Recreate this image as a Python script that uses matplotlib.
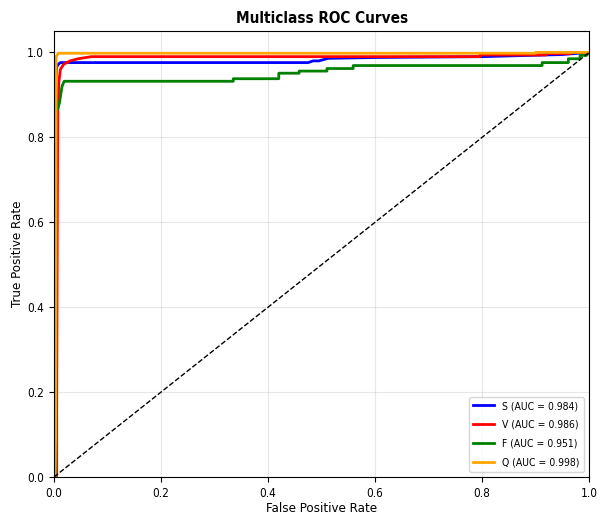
import matplotlib
matplotlib.use("Agg")
import matplotlib.pyplot as plt

# ROC points per class (fpr, tpr)
S_FPR = [0, 0.002, 0.003, 0.005, 0.008, 0.012, 0.475, 0.484, 0.495, 0.512, 0.60, 0.80, 0.95, 1.0]
S_TPR = [0, 0.0, 0.93, 0.965, 0.972, 0.976, 0.976, 0.980, 0.980, 0.986, 0.988, 0.990, 0.995, 1.0]

V_FPR = [0, 0.005, 0.005, 0.006, 0.007, 0.009, 0.012, 0.018, 0.03, 0.045, 0.07,
         0.796, 0.796, 0.92, 0.92, 0.965, 0.965, 1.0]
V_TPR = [0, 0.0, 0.17, 0.55, 0.85, 0.93, 0.96, 0.972, 0.98, 0.985, 0.99,
         0.99, 0.994, 0.994, 0.997, 0.997, 1.0, 1.0]

F_FPR = [0, 0.002, 0.003, 0.005, 0.01, 0.015, 0.019, 0.335, 0.335, 0.42, 0.42, 0.458, 0.458,
         0.51, 0.51, 0.559, 0.559, 0.912, 0.912, 0.961, 0.961, 0.983, 0.983, 0.995, 1.0]
F_TPR = [0, 0.0, 0.74, 0.86, 0.88, 0.92, 0.932, 0.932, 0.938, 0.938, 0.951, 0.951, 0.956,
         0.956, 0.962, 0.962, 0.969, 0.969, 0.976, 0.976, 0.985, 0.985, 0.993, 0.993, 1.0]

Q_FPR = [0, 0.002, 0.003, 0.004, 0.008, 0.9, 0.9, 1.0]
Q_TPR = [0, 0.0, 0.09, 0.99, 0.998, 0.998, 1.0, 1.0]

CLASSES = ["S", "V", "F", "Q"]
AUCS = [0.984, 0.986, 0.951, 0.998]
COLORS = ["blue", "red", "green", "orange"]

plt.rcParams["font.stretch"] = "condensed"

fig = plt.figure(figsize=(6, 5.16), dpi=100)
ax = fig.add_axes([0.09, 0.0756, 0.892, 0.864])

curves = [(S_FPR, S_TPR), (V_FPR, V_TPR), (F_FPR, F_TPR), (Q_FPR, Q_TPR)]
for (fpr, tpr), name, auc, c in zip(curves, CLASSES, AUCS, COLORS):
    ax.plot(fpr, tpr, color=c, lw=2, label=f"{name} (AUC = {auc:.3f})")

ax.plot([0, 1], [0, 1], "k--", lw=1)
ax.set_xlim(0, 1)
ax.set_ylim(0, 1.05)
ax.set_xlabel("False Positive Rate", fontsize=9.5, labelpad=2)
ax.set_ylabel("True Positive Rate", fontsize=9.5, labelpad=2)
ax.set_title("Multiclass ROC Curves", fontsize=11, fontweight="bold")
ax.tick_params(labelsize=8.5)
ax.grid(True, alpha=0.3)
ax.legend(loc="lower right", fontsize=7.5, labelspacing=0.85)

fig.savefig("out.png", dpi=100)
